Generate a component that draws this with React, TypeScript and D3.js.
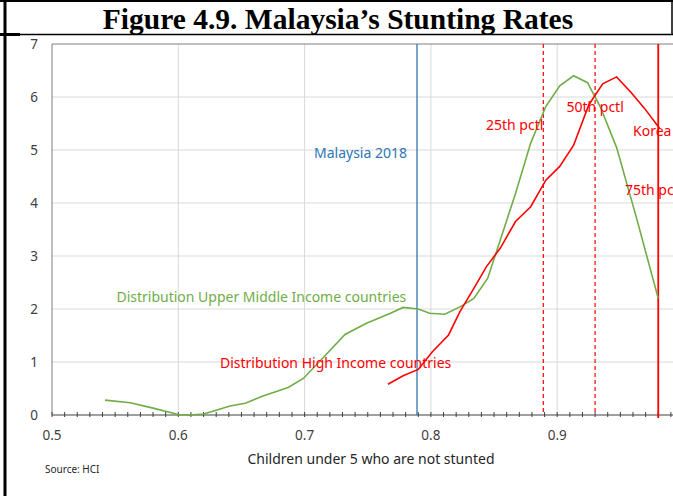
import React from 'react';
import * as d3 from 'd3';

// kernel density, upper middle income countries
const umicX = [0.542, 0.562, 0.580, 0.600, 0.609, 0.620, 0.630, 0.641, 0.653, 0.667, 0.687, 0.699, 0.715, 0.732, 0.749, 0.768, 0.778, 0.790, 0.799, 0.811, 0.823, 0.834, 0.845, 0.867, 0.879, 0.891, 0.902, 0.913, 0.924, 0.934, 0.947, 0.963, 0.980];
const umicY = [0.28, 0.23, 0.13, 0.01, 0, 0.02, 0.09, 0.17, 0.22, 0.36, 0.52, 0.69, 1.09, 1.52, 1.73, 1.92, 2.03, 2.0, 1.92, 1.9, 2.04, 2.2, 2.58, 4.18, 5.13, 5.82, 6.21, 6.4, 6.27, 5.82, 5.05, 3.7, 2.2];

// kernel density, high income countries
const hicX = [0.766, 0.778, 0.790, 0.801, 0.814, 0.823, 0.834, 0.844, 0.855, 0.867, 0.879, 0.891, 0.902, 0.913, 0.925, 0.936, 0.947, 0.958, 0.969, 0.981];
const hicY = [0.58, 0.74, 0.86, 1.19, 1.51, 1.95, 2.39, 2.8, 3.15, 3.65, 3.93, 4.43, 4.69, 5.09, 5.85, 6.25, 6.38, 6.1, 5.79, 5.41];

// reference lines
const malaysia2018 = 0.789;
const pctlNames = ['25th pctl', '50th pctl'];
const pctlValues = [0.889, 0.930];
const korea = 0.98;

const xTicks = [0.5, 0.6, 0.7, 0.8, 0.9];
const yTicks = [0, 1, 2, 3, 4, 5, 6, 7];

const W = 673, H = 496;
const RED = '#ff0000', GREEN = '#70ad47', BLUE = '#2e75b6';
const FONT = '"Noto Sans", sans-serif';

export default function App() {
    // plot area (right side runs off the page like the original crop)
    const x = d3.scaleLinear().domain([0.5, 1.0]).range([52, 683.5]);
    const y = d3.scaleLinear().domain([0, 7]).range([415, 44]);

    const line = d3.line<[number, number]>()
        .x(d => x(d[0]))
        .y(d => y(d[1]));

    const umic = umicX.map((v, i) => [v, umicY[i]] as [number, number]);
    const hic = hicX.map((v, i) => [v, hicY[i]] as [number, number]);
    const minor = d3.range(0, 50).map(i => 0.5 + i * 0.01);

    return (
        <svg width={W} height={H} style={{ position: 'absolute', left: 0, top: 0, background: '#fff' }}>
            {/* page frame */}
            <line x1={0} x2={W} y1={1} y2={1} stroke="#000" strokeWidth={2} />
            <line x1={5} x2={5} y1={0} y2={H} stroke="#000" strokeWidth={3} />
            <line x1={0} x2={W} y1={34.5} y2={34.5} stroke="#000" strokeWidth={1.5} />
            <line x1={0} x2={20} y1={34.5} y2={34.5} stroke="#000" strokeWidth={3} />
            <line x1={672} x2={672} y1={0} y2={35} stroke="#000" strokeWidth={1.5} />

            <text x={338} y={29} textAnchor="middle" fontFamily='"Liberation Serif", serif'
                fontWeight="bold" fontSize={29.5} fill="#000">Figure 4.9. Malaysia’s Stunting Rates</text>

            {/* gridlines */}
            {yTicks.slice(1, -1).map(t => (
                <line key={'gy' + t} x1={52} x2={W} y1={y(t)} y2={y(t)} stroke="#d9d9d9" />
            ))}
            {xTicks.slice(1).map(t => (
                <line key={'gx' + t} x1={x(t)} x2={x(t)} y1={y(7)} y2={y(0)} stroke="#d9d9d9" />
            ))}

            {/* plot border and axes */}
            <line x1={52} x2={W} y1={y(7)} y2={y(7)} stroke="#7f7f7f" />
            <line x1={52} x2={52} y1={y(7)} y2={y(0)} stroke="#7f7f7f" />
            <line x1={52} x2={W} y1={y(0)} y2={y(0)} stroke="#404040" strokeWidth={1.2} />
            {minor.map((t, i) => (
                <line key={'t' + i} x1={x(t)} x2={x(t)} y1={y(0) - 3} y2={y(0) + 2} stroke="#404040" />
            ))}

            {yTicks.map(t => (
                <text key={'yl' + t} x={38} y={y(t)} dy="0.35em" textAnchor="end"
                    fontFamily={FONT} fontSize={13.5} fill="#404040">{t}</text>
            ))}
            {xTicks.map(t => (
                <text key={'xl' + t} x={x(t)} y={440} textAnchor="middle"
                    fontFamily={FONT} fontSize={13.5} fill="#404040">{t.toFixed(1)}</text>
            ))}
            <text x={371} y={464} textAnchor="middle" fontFamily={FONT} fontSize={14} fill="#262626">
                Children under 5 who are not stunted</text>
            <text x={45} y={473} fontFamily={FONT} fontSize={10} fill="#262626">Source: HCI</text>

            {/* reference lines */}
            <line x1={x(malaysia2018)} x2={x(malaysia2018)} y1={y(7)} y2={y(0)} stroke={BLUE} strokeWidth={1.3} />
            {pctlValues.map((v, i) => (
                <line key={pctlNames[i]} x1={x(v)} x2={x(v)} y1={y(7)} y2={y(0)}
                    stroke={RED} strokeWidth={1.2} strokeDasharray="4 3" />
            ))}
            <line x1={x(korea)} x2={x(korea)} y1={y(7)} y2={y(0) + 3} stroke={RED} strokeWidth={1.8} />

            {/* density curves */}
            <path d={line(umic) || ''} fill="none" stroke={GREEN} strokeWidth={1.6} />
            <path d={line(hic) || ''} fill="none" stroke={RED} strokeWidth={1.6} />

            {/* annotations */}
            <g fontFamily={FONT} fontSize={14}>
                <text x={x(malaysia2018) - 10} y={y(4.94)} dy="0.35em" textAnchor="end" fill={BLUE}>Malaysia 2018</text>
                <text x={x(pctlValues[0])} y={y(5.47)} dy="0.35em" textAnchor="end" fill={RED}>{pctlNames[0]}</text>
                <text x={x(pctlValues[1])} y={y(5.81)} dy="0.35em" textAnchor="middle" fill={RED}>{pctlNames[1]}</text>
                <text x={633} y={y(5.36)} dy="0.35em" fill={RED}>Korea</text>
                <text x={625} y={y(4.25)} dy="0.35em" fill={RED}>75th pctl</text>
                <text x={x(0.551)} y={y(2.23)} dy="0.35em" fill={GREEN}>Distribution Upper Middle Income countries</text>
                <text x={x(0.633)} y={y(0.98)} dy="0.35em" fill={RED}>Distribution High Income countries</text>
            </g>
        </svg>
    );
}
